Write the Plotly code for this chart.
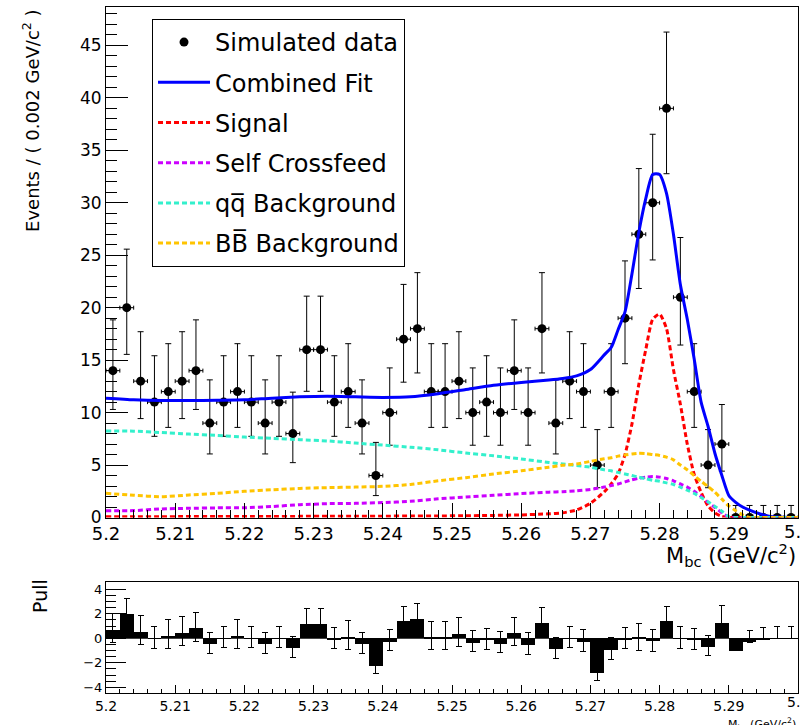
import plotly.graph_objects as go

# ---------------- data ----------------
bin_width = 0.002
bin_half_width = 0.001
bin_centers = [5.201, 5.203, 5.205, 5.207, 5.209, 5.211, 5.213, 5.215, 5.217, 5.219,
               5.221, 5.223, 5.225, 5.227, 5.229, 5.231, 5.233, 5.235, 5.237, 5.239,
               5.241, 5.243, 5.245, 5.247, 5.249, 5.251, 5.253, 5.255, 5.257, 5.259,
               5.261, 5.263, 5.265, 5.267, 5.269, 5.271, 5.273, 5.275, 5.277, 5.279,
               5.281, 5.283, 5.285, 5.287, 5.289, 5.291, 5.293, 5.295, 5.297, 5.299]

counts = [14, 20, 13, 11, 12, 13, 14, 9, 11, 12,
          11, 9, 11, 8, 16, 16, 11, 12, 9, 4,
          10, 17, 18, 12, 12, 13, 10, 11, 10, 14,
          10, 18, 9, 13, 12, 5, 12, 19, 27, 30,
          39, 21, 12, 5, 7, 0, 0, 0, 0, 0]

# Poisson (68%) error bars, per count
poisson_err_lo = {0: 0.0, 4: 1.91, 5: 2.16, 7: 2.58, 8: 2.77, 9: 2.94, 10: 3.11, 11: 3.26,
                  12: 3.41, 13: 3.57, 14: 3.70, 16: 3.97, 17: 4.10, 18: 4.22, 19: 4.34,
                  20: 4.45, 21: 4.56, 27: 5.17, 30: 5.45, 39: 6.23}
poisson_err_hi = {0: 1.15, 4: 3.16, 5: 3.38, 7: 3.77, 8: 3.95, 9: 4.12, 10: 4.26, 11: 4.42,
                  12: 4.57, 13: 4.71, 14: 4.84, 16: 5.10, 17: 5.22, 18: 5.34, 19: 5.46,
                  20: 5.58, 21: 5.69, 27: 6.26, 30: 6.53, 39: 7.27}

pulls = [0.68, 2.0, 0.5, -0.07, 0.2, 0.45, 0.78, -0.5, -0.05, 0.2,
         -0.05, -0.5, -0.05, -0.85, 1.12, 1.12, -0.1, 0.12, -0.5, -2.3,
         -0.3, 1.35, 1.55, 0.05, 0.05, 0.35, -0.38, -0.2, -0.45, 0.42,
         -0.55, 1.22, -0.92, -0.03, -0.3, -2.83, -0.95, -0.08, 0.02, -0.27,
         1.4, -0.03, -0.2, -0.75, 1.25, -1.03, -0.33, -0.08, -0.02, -0.01]
pull_err_hi = [1.31, 1.25, 1.32, 1, 1.34, 1.32, 1.31, 1, 1, 1.34,
               1, 1, 1, 1, 1.28, 1.28, 1, 1.34, 1, 1,
               1, 1.27, 1.27, 1.34, 1.34, 1.32, 1, 1, 1, 1.31,
               1, 1.27, 1, 1, 1, 1, 1, 1, 1.21, 1,
               1.17, 1, 1, 1, 1.46, 1, 1, 1, 1, 1]
pull_err_lo = [1, 1, 1, 0.74, 1, 1, 1, 0.71, 0.74, 1,
               0.74, 0.71, 0.74, 0.70, 1, 1, 0.74, 1, 0.71, 0.60,
               0.73, 1, 1, 1, 1, 1, 0.73, 0.74, 0.73, 1,
               0.73, 1, 0.71, 0.76, 0.75, 0.64, 0.75, 0.79, 1, 0.83,
               1, 0.80, 0.75, 0.64, 1, 0, 0, 0, 0, 0]

curve_x = [5.200, 5.204, 5.208, 5.212, 5.216, 5.220, 5.224, 5.228, 5.232, 5.236,
           5.240, 5.244, 5.248, 5.252, 5.256, 5.260, 5.264, 5.266, 5.268, 5.270,
           5.272, 5.273, 5.274, 5.275, 5.276, 5.277, 5.278, 5.279, 5.280, 5.281,
           5.282, 5.283, 5.284, 5.285, 5.286, 5.287, 5.288, 5.289, 5.290, 5.291,
           5.292, 5.293, 5.294, 5.296, 5.298, 5.300]

combined_fit = [11.37, 11.22, 11.15, 11.15, 11.18, 11.22, 11.38, 11.5, 11.55, 11.5,
                11.45, 11.5, 11.8, 12.2, 12.6, 12.88, 13.1, 13.25, 13.5, 14.1,
                15.5, 16.2, 17.9, 19.6, 23.2, 27.2, 30.4, 32.7, 32.7, 30.9,
                27.0, 22.2, 18.9, 15.1, 11.0, 8.7, 6.1, 4.0, 2.1, 1.45,
                1.0, 0.7, 0.45, 0.1, 0.02, 0.0]
signal = [0.08, 0.08, 0.08, 0.09, 0.09, 0.1, 0.1, 0.11, 0.12, 0.12,
          0.13, 0.14, 0.15, 0.17, 0.2, 0.25, 0.35, 0.45, 0.72, 1.35,
          2.45, 3.2, 4.15, 6.0, 8.9, 12.7, 16.0, 18.9, 19.4, 18.0,
          14.1, 10.8, 7.0, 4.1, 2.4, 1.1, 0.45, 0.1, 0.0, 0.0,
          0.0, 0.0, 0.0, 0.0, 0.0, 0.0]
self_crossfeed = [0.65, 0.66, 0.82, 0.88, 0.92, 0.93, 1.05, 1.22, 1.32, 1.35,
                  1.42, 1.55, 1.78, 1.95, 2.12, 2.28, 2.42, 2.46, 2.55, 2.68,
                  2.9, 3.05, 3.2, 3.4, 3.6, 3.75, 3.85, 3.9, 3.85, 3.72,
                  3.5, 3.2, 2.9, 2.5, 2.0, 1.45, 0.95, 0.45, 0.05, 0.0,
                  0.0, 0.0, 0.0, 0.0, 0.0, 0.0]
qq_background = [8.25, 8.23, 8.1, 7.95, 7.83, 7.67, 7.55, 7.42, 7.3, 7.1,
                 6.9, 6.7, 6.45, 6.15, 5.88, 5.58, 5.25, 5.1, 4.95, 4.8,
                 4.55, 4.45, 4.3, 4.15, 4.0, 3.85, 3.7, 3.55, 3.45, 3.3,
                 3.15, 2.9, 2.6, 2.3, 1.9, 1.5, 1.05, 0.6, 0.05, 0.0,
                 0.0, 0.0, 0.0, 0.0, 0.0, 0.0]
bb_background = [2.31, 2.12, 1.98, 2.15, 2.3, 2.5, 2.65, 2.77, 2.85, 2.9,
                 2.97, 3.15, 3.5, 3.8, 4.15, 4.45, 4.8, 4.98, 5.1, 5.35,
                 5.6, 5.7, 5.85, 5.95, 6.05, 6.12, 6.1, 6.0, 5.92, 5.75,
                 5.5, 5.0, 4.55, 4.0, 3.45, 2.95, 2.4, 1.75, 1.1, 0.65,
                 0.25, 0.0, 0.0, 0.0, 0.0, 0.0]

x_tick_vals = [5.2, 5.21, 5.22, 5.23, 5.24, 5.25, 5.26, 5.27, 5.28, 5.29]
x_tick_text = ["5.2", "5.21", "5.22", "5.23", "5.24", "5.25", "5.26", "5.27", "5.28", "5.29"]
x_last_tick_text = "5.3"

err_lo = [poisson_err_lo[n] for n in counts]
err_hi = [poisson_err_hi[n] for n in counts]

FONT = "DejaVu Sans"

fig = go.Figure()

fig.add_trace(go.Scatter(
    x=bin_centers, y=counts, mode="markers", name="Simulated data",
    legendgroup="g1",
    marker=dict(color="black", size=9, symbol="circle"),
    error_y=dict(type="data", symmetric=False, array=err_hi, arrayminus=err_lo,
                 color="black", thickness=1, width=3),
    error_x=dict(type="constant", value=bin_half_width, color="black", thickness=1, width=2),
    xaxis="x", yaxis="y"))

curve_specs = [
    ("Combined Fit", combined_fit, "#0000ff", "solid", "g2"),
    ("Signal", signal, "#ff0000", "5px,3px", "g3"),
    ("Self Crossfeed", self_crossfeed, "#cc00ff", "5px,3px", "g4"),
    ("qq\u0305 Background", qq_background, "#33f0cc", "5px,3px", "g5"),
    ("BB\u0305 Background", bb_background, "#ffc400", "5px,3px", "g6"),
]
for name, vals, col, dash, grp in curve_specs:
    fig.add_trace(go.Scatter(
        x=curve_x, y=vals, mode="lines", name=name, legendgroup=grp,
        line=dict(color=col, width=3, dash=dash, shape="spline", smoothing=0.6),
        xaxis="x", yaxis="y"))

fig.add_trace(go.Bar(
    x=bin_centers, y=pulls, width=bin_width, showlegend=False,
    marker=dict(color="black", line=dict(width=0)),
    error_y=dict(type="data", symmetric=False, array=pull_err_hi, arrayminus=pull_err_lo,
                 color="black", thickness=1, width=3),
    xaxis="x2", yaxis="y2"))

axis_common = dict(showgrid=False, zeroline=False, showline=True, linecolor="black",
                   linewidth=1, mirror=True, tickcolor="black")

fig.update_layout(
    width=800, height=725,
    margin=dict(l=106, r=2, t=7, b=32),
    paper_bgcolor="white", plot_bgcolor="white",
    font=dict(family=FONT, color="black"),
    bargap=0,
    showlegend=True,
    legend=dict(x=0.0665, y=0.9825, xanchor="left", yanchor="top",
                bordercolor="black", borderwidth=1, bgcolor="white",
                font=dict(family=FONT, size=24, color="black"),
                tracegroupgap=6, itemwidth=52, traceorder="grouped"),
    xaxis=dict(axis_common, domain=[0, 1], anchor="y", range=[5.2, 5.3],
               tickmode="array", tickvals=x_tick_vals, ticktext=x_tick_text,
               ticks="inside", ticklen=15,
               minor=dict(ticks="inside", ticklen=8, dtick=0.002, tick0=5.2, tickcolor="black"),
               tickfont=dict(family=FONT, size=18, color="black")),
    yaxis=dict(axis_common, domain=[0.2558, 1], anchor="x", range=[0, 48.66],
               dtick=5, tick0=0, ticks="inside", ticklen=22,
               minor=dict(ticks="inside", ticklen=11, dtick=1, tickcolor="black"),
               tickfont=dict(family=FONT, size=17, color="black")),
    xaxis2=dict(axis_common, domain=[0, 1], anchor="y2", range=[5.2, 5.3],
                tickmode="array", tickvals=x_tick_vals, ticktext=x_tick_text,
                ticks="inside", ticklen=8,
                minor=dict(ticks="inside", ticklen=4, dtick=0.002, tick0=5.2, tickcolor="black"),
                tickfont=dict(family=FONT, size=14, color="black")),
    yaxis2=dict(axis_common, domain=[0, 0.1614], anchor="x2", range=[-4.46, 4.57],
                dtick=2, tick0=0, ticks="inside", ticklen=20,
                minor=dict(ticks="inside", ticklen=10, dtick=0.5, tickcolor="black"),
                zeroline=True, zerolinecolor="#444", zerolinewidth=1,
                tickfont=dict(family=FONT, size=13, color="black")),
    annotations=[
        dict(text="Events / ( 0.002 GeV/c<sup>2</sup> )", xref="paper", yref="paper",
             x=-0.1084, y=0.8353, xanchor="center", yanchor="middle", textangle=-90,
             showarrow=False, font=dict(family=FONT, size=18, color="black")),
        dict(text="M<sub>bc</sub> (GeV/c<sup>2</sup>)", xref="paper", yref="paper",
             x=1.0, y=0.2260, xanchor="right", yanchor="top",
             showarrow=False, font=dict(family=FONT, size=21, color="black")),
        dict(text="Pull", xref="paper", yref="paper",
             x=-0.0954, y=0.1414, xanchor="center", yanchor="middle", textangle=-90,
             showarrow=False, font=dict(family=FONT, size=19, color="black")),
        dict(text="M<sub>bc</sub> (GeV/c<sup>2</sup>)", xref="paper", yref="paper",
             x=1.0, y=-0.0300, xanchor="right", yanchor="top",
             showarrow=False, font=dict(family=FONT, size=11, color="black")),
        dict(text=x_last_tick_text, xref="x", yref="paper",
             x=5.3, y=0.2347, xanchor="center", yanchor="middle",
             showarrow=False, font=dict(family=FONT, size=18, color="black")),
        dict(text=x_last_tick_text, xref="x2", yref="paper",
             x=5.3, y=-0.0130, xanchor="center", yanchor="middle",
             showarrow=False, font=dict(family=FONT, size=14, color="black")),
    ],
)

fig.write_html("out.html")
